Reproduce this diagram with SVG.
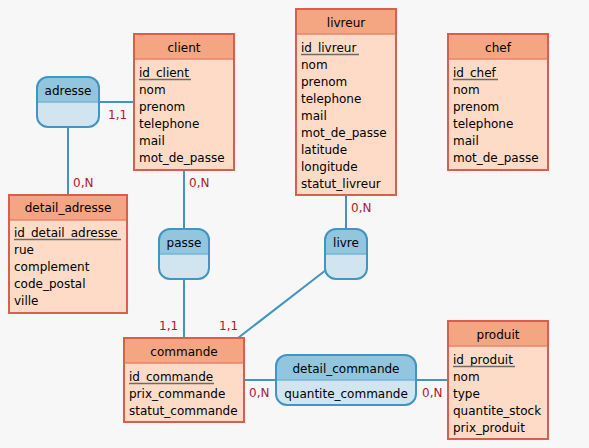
<svg xmlns="http://www.w3.org/2000/svg" width="589" height="448" viewBox="0 0 589 448">
<style>
text{font-family:"DejaVu Sans","Liberation Sans",sans-serif;font-size:12px;fill:#000}
.title{text-anchor:middle}
.card{fill:#b2182b}
.ebody{fill:#fddbc7;stroke:none}
.ehead{fill:#f4a582;stroke:none}
.eout{fill:none;stroke:#d6604d;stroke-width:2}
.esep{stroke:#e8836d;stroke-width:1.5}
.abody{fill:#d1e5f0;stroke:none}
.ahead{fill:#92c5de;stroke:none}
.aout{fill:none;stroke:#4393c3;stroke-width:2}
.asep{stroke:#76b3d6;stroke-width:1.5}
.ul{stroke:#6b6b6b;stroke-width:1.5}
.conn line{stroke:#4393c3;stroke-width:2}
</style>
<rect width="589" height="448" fill="#f7f7f7"/>
<g id="connectors" class="conn">
<line x1="99" y1="102" x2="134" y2="102"/>
<line x1="68" y1="127" x2="68" y2="195"/>
<line x1="184" y1="170" x2="184" y2="229"/>
<line x1="184" y1="279" x2="184" y2="338"/>
<line x1="346" y1="195" x2="346" y2="229"/>
<line x1="238" y1="338" x2="326" y2="270"/>
<line x1="244" y1="380" x2="276" y2="380"/>
<line x1="416" y1="380" x2="448" y2="380"/>
</g>
<g id="cardinalities">
<text class="card" x="108" y="119">1,1</text>
<text class="card" x="73" y="187">0,N</text>
<text class="card" x="189" y="187">0,N</text>
<text class="card" x="159" y="330">1,1</text>
<text class="card" x="219" y="330">1,1</text>
<text class="card" x="351" y="212">0,N</text>
<text class="card" x="249" y="397">0,N</text>
<text class="card" x="422" y="397">0,N</text>
</g>
<g id="client">
<rect class="ebody" x="134" y="34" width="100" height="136"/>
<rect class="ehead" x="134" y="34" width="100" height="25"/>
<line class="esep" x1="134" y1="59" x2="234" y2="59"/>
<rect class="eout" x="134" y="34" width="100" height="136"/>
<text class="title" x="184" y="52">client</text>
<text x="139" y="77">id_client</text>
<line class="ul" x1="139" y1="79.5" x2="191" y2="79.5"/>
<text x="139" y="94">nom</text>
<text x="139" y="111">prenom</text>
<text x="139" y="128">telephone</text>
<text x="139" y="145">mail</text>
<text x="139" y="162">mot_de_passe</text>
</g>
<g id="livreur">
<rect class="ebody" x="296" y="9" width="100" height="186"/>
<rect class="ehead" x="296" y="9" width="100" height="25"/>
<line class="esep" x1="296" y1="34" x2="396" y2="34"/>
<rect class="eout" x="296" y="9" width="100" height="186"/>
<text class="title" x="346" y="27">livreur</text>
<text x="301" y="52">id_livreur</text>
<line class="ul" x1="301" y1="54.5" x2="359" y2="54.5"/>
<text x="301" y="69">nom</text>
<text x="301" y="86">prenom</text>
<text x="301" y="103">telephone</text>
<text x="301" y="120">mail</text>
<text x="301" y="137">mot_de_passe</text>
<text x="301" y="154">latitude</text>
<text x="301" y="171">longitude</text>
<text x="301" y="188">statut_livreur</text>
</g>
<g id="chef">
<rect class="ebody" x="448" y="34" width="100" height="136"/>
<rect class="ehead" x="448" y="34" width="100" height="25"/>
<line class="esep" x1="448" y1="59" x2="548" y2="59"/>
<rect class="eout" x="448" y="34" width="100" height="136"/>
<text class="title" x="498" y="52">chef</text>
<text x="453" y="77">id_chef</text>
<line class="ul" x1="453" y1="79.5" x2="498" y2="79.5"/>
<text x="453" y="94">nom</text>
<text x="453" y="111">prenom</text>
<text x="453" y="128">telephone</text>
<text x="453" y="145">mail</text>
<text x="453" y="162">mot_de_passe</text>
</g>
<g id="detail_adresse">
<rect class="ebody" x="9" y="195" width="118" height="118"/>
<rect class="ehead" x="9" y="195" width="118" height="25"/>
<line class="esep" x1="9" y1="220" x2="127" y2="220"/>
<rect class="eout" x="9" y="195" width="118" height="118"/>
<text class="title" x="68" y="212">detail_adresse</text>
<text x="14" y="237">id_detail_adresse</text>
<line class="ul" x1="14" y1="239.5" x2="121" y2="239.5"/>
<text x="14" y="254">rue</text>
<text x="14" y="271">complement</text>
<text x="14" y="288">code_postal</text>
<text x="14" y="305">ville</text>
</g>
<g id="commande">
<rect class="ebody" x="124" y="338" width="120" height="84"/>
<rect class="ehead" x="124" y="338" width="120" height="25"/>
<line class="esep" x1="124" y1="363" x2="244" y2="363"/>
<rect class="eout" x="124" y="338" width="120" height="84"/>
<text class="title" x="184" y="356">commande</text>
<text x="129" y="381">id_commande</text>
<line class="ul" x1="129" y1="383.5" x2="214" y2="383.5"/>
<text x="129" y="398">prix_commande</text>
<text x="129" y="415">statut_commande</text>
</g>
<g id="produit">
<rect class="ebody" x="448" y="321" width="100" height="118"/>
<rect class="ehead" x="448" y="321" width="100" height="25"/>
<line class="esep" x1="448" y1="346" x2="548" y2="346"/>
<rect class="eout" x="448" y="321" width="100" height="118"/>
<text class="title" x="498" y="339">produit</text>
<text x="453" y="364">id_produit</text>
<line class="ul" x1="453" y1="366.5" x2="515" y2="366.5"/>
<text x="453" y="381">nom</text>
<text x="453" y="398">type</text>
<text x="453" y="415">quantite_stock</text>
<text x="453" y="432">prix_produit</text>
</g>
<g id="adresse">
<rect class="abody" x="37" y="77" width="62" height="50" rx="11"/>
<path class="ahead" d="M37,102 V88 A11,11 0 0 1 48,77 H88 A11,11 0 0 1 99,88 V102 Z"/>
<line class="asep" x1="37" y1="102" x2="99" y2="102"/>
<rect class="aout" x="37" y="77" width="62" height="50" rx="11"/>
<text class="title" x="68" y="95">adresse</text>
</g>
<g id="passe">
<rect class="abody" x="159" y="229" width="50" height="50" rx="11"/>
<path class="ahead" d="M159,254 V240 A11,11 0 0 1 170,229 H198 A11,11 0 0 1 209,240 V254 Z"/>
<line class="asep" x1="159" y1="254" x2="209" y2="254"/>
<rect class="aout" x="159" y="229" width="50" height="50" rx="11"/>
<text class="title" x="184" y="247">passe</text>
</g>
<g id="livre">
<rect class="abody" x="325" y="229" width="42" height="50" rx="11"/>
<path class="ahead" d="M325,254 V240 A11,11 0 0 1 336,229 H356 A11,11 0 0 1 367,240 V254 Z"/>
<line class="asep" x1="325" y1="254" x2="367" y2="254"/>
<rect class="aout" x="325" y="229" width="42" height="50" rx="11"/>
<text class="title" x="346" y="247">livre</text>
</g>
<g id="detail_commande">
<rect class="abody" x="276" y="355" width="140" height="50" rx="11"/>
<path class="ahead" d="M276,380 V366 A11,11 0 0 1 287,355 H405 A11,11 0 0 1 416,366 V380 Z"/>
<line class="asep" x1="276" y1="380" x2="416" y2="380"/>
<rect class="aout" x="276" y="355" width="140" height="50" rx="11"/>
<text class="title" x="346" y="373">detail_commande</text>
<text class="title" x="346" y="398">quantite_commande</text>
</g>
</svg>
